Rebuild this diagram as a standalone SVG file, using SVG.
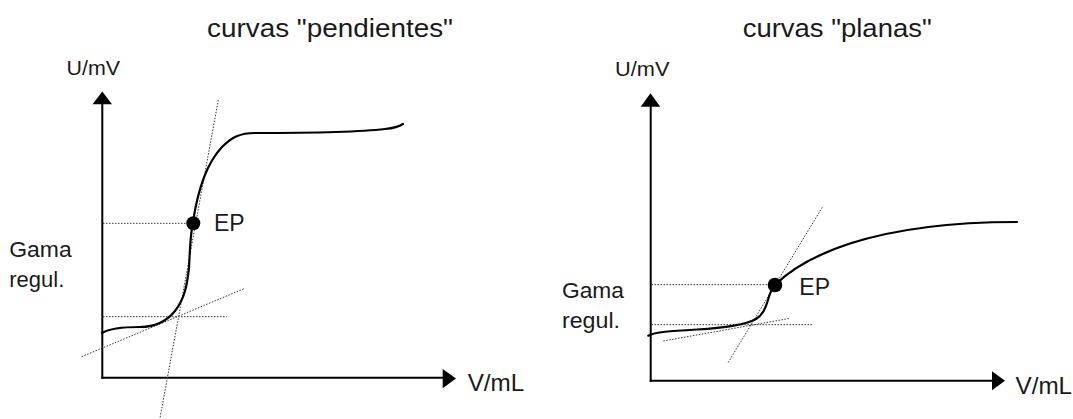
<svg xmlns="http://www.w3.org/2000/svg" width="1073" height="419" viewBox="0 0 1073 419">
<style>
text{font-family:"Liberation Sans",Arial,sans-serif;fill:#1a1a1a}
.title{font-size:26px}
.ax{font-size:21px}
.axx{font-size:24px}
.ep{font-size:23px}
.lbl{font-size:21.5px}
.axis{stroke:#000;stroke-width:2;fill:none}
.curve{stroke:#000;stroke-width:2.2;fill:none;stroke-linecap:round}
.dot{stroke:#333;stroke-width:1;stroke-dasharray:1.5 1.5;fill:none}
.head{fill:#000}
</style>
<rect width="1073" height="419" fill="#fff"/>
<g id="left-chart">
<text class="title" x="207" y="36.5" textLength="246" lengthAdjust="spacingAndGlyphs">curvas "pendientes"</text>
<g id="left-axes">
<line class="axis" x1="102.3" y1="103" x2="102.3" y2="378.7"/>
<line class="axis" x1="101.3" y1="377.7" x2="444" y2="377.7"/>
<polygon class="head" points="102.3,91.5 92.6,104.2 112,104.2"/>
<polygon class="head" points="456,378.5 442.7,369 442.7,388.2"/>
<text class="ax" x="66.5" y="75" textLength="53.5" lengthAdjust="spacingAndGlyphs">U/mV</text>
<text class="axx" x="467.7" y="391" textLength="56.6" lengthAdjust="spacingAndGlyphs">V/mL</text>
</g>
<g id="left-guides">
<line class="dot" x1="103" y1="223.3" x2="187" y2="223.3"/>
<line class="dot" x1="103" y1="316.7" x2="226.7" y2="316.7"/>
<line class="dot" x1="218.3" y1="100" x2="160" y2="418"/>
<line class="dot" x1="81.7" y1="356.7" x2="245" y2="288.3"/>
</g>
<path id="left-curve" class="curve" d="M102,333 C110,328 125,327 140,327 C155,327 166,322 175,311 C185,298 187,285 189,268 C190,250 190,236 193,222 C197,195 205,165 222,147 C232,137 240,133 255,133 C300,133 360,132 385,129 C395,128 400,126 403,124"/>
<g id="left-ep">
<circle cx="193.3" cy="223.3" r="7"/>
<text class="ep" x="214" y="231">EP</text>
</g>
<g id="left-gama">
<text class="lbl" x="9.3" y="256.7" textLength="62.4" lengthAdjust="spacingAndGlyphs">Gama</text>
<text class="lbl" x="9.3" y="286.5" textLength="55" lengthAdjust="spacingAndGlyphs">regul.</text>
</g>
</g>
<g id="right-chart">
<text class="title" x="742.7" y="36.5" textLength="189" lengthAdjust="spacingAndGlyphs">curvas "planas"</text>
<g id="right-axes">
<line class="axis" x1="650.7" y1="105" x2="650.7" y2="381.7"/>
<line class="axis" x1="649.7" y1="380.7" x2="993" y2="380.7"/>
<polygon class="head" points="650.5,93.3 640.8,106.7 660.2,106.7"/>
<polygon class="head" points="1005,380.7 992,371.2 992,390.2"/>
<text class="ax" x="615" y="76" textLength="54.5" lengthAdjust="spacingAndGlyphs">U/mV</text>
<text class="axx" x="1015.5" y="393.5" textLength="56.6" lengthAdjust="spacingAndGlyphs">V/mL</text>
</g>
<g id="right-guides">
<line class="dot" x1="651.5" y1="284.7" x2="768" y2="284.7"/>
<line class="dot" x1="651.5" y1="324.7" x2="813.3" y2="324.7"/>
<line class="dot" x1="822.3" y1="207.3" x2="727.7" y2="363.3"/>
<line class="dot" x1="663.3" y1="341" x2="790" y2="318.3"/>
</g>
<path id="right-curve" class="curve" d="M648.3,335.7 C655,332 670,331 697,329.5 C725,328 745,325 756,319 C764,314 766,306 768,300 C770,293 771,289 775,285 C790,270 815,255 850,243.5 C895,229 950,222 1017,222"/>
<g id="right-ep">
<circle cx="775" cy="285" r="7.3"/>
<text class="ep" x="799.3" y="295">EP</text>
</g>
<g id="right-gama">
<text class="lbl" x="562" y="298.3" textLength="62" lengthAdjust="spacingAndGlyphs">Gama</text>
<text class="lbl" x="562" y="328" textLength="58" lengthAdjust="spacingAndGlyphs">regul.</text>
</g>
</g>
</svg>
